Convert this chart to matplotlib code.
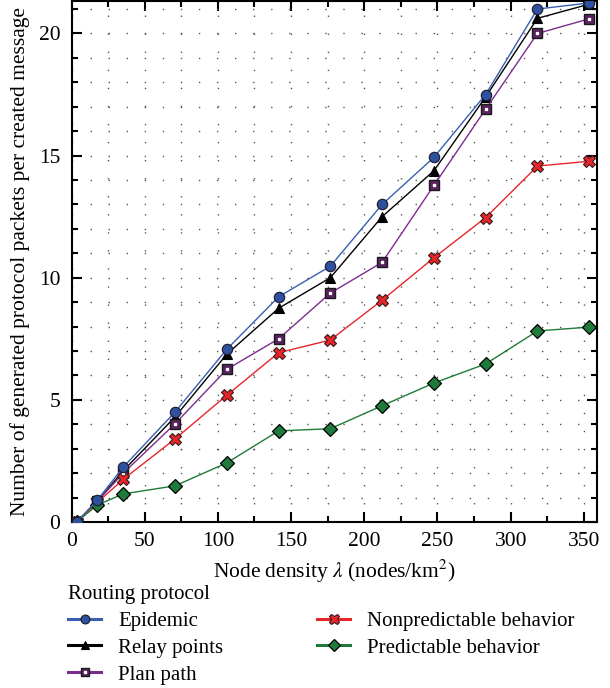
import matplotlib
matplotlib.use("Agg")
import matplotlib.pyplot as plt
from matplotlib.ticker import MultipleLocator
from matplotlib.legend_handler import HandlerTuple
from matplotlib.lines import Line2D

plt.rcParams['font.family'] = ['Liberation Serif', 'DejaVu Serif']
plt.rcParams['mathtext.fontset'] = 'stix'

# Data
density = [3.5, 17.7, 35.4, 70.7, 106.1, 141.5, 176.8, 212.2, 247.6, 282.9, 318.3, 353.7]
epidemic = [0.0, 0.9, 2.25, 4.5, 7.07, 9.22, 10.47, 13.0, 14.93, 17.5, 21.0, 21.25]
relay = [0.0, 0.85, 2.1, 4.3, 6.87, 8.75, 10.0, 12.5, 14.38, 17.4, 20.62, 21.2]
plan = [0.0, 0.85, 2.0, 4.02, 6.25, 7.5, 9.37, 10.63, 13.78, 16.9, 20.0, 20.6]
nonpred = [0.0, 0.8, 1.75, 3.4, 5.19, 6.93, 7.45, 9.08, 10.82, 12.46, 14.57, 14.77]
pred = [0.0, 0.7, 1.15, 1.48, 2.42, 3.73, 3.82, 4.76, 5.69, 6.47, 7.82, 7.98]

labels = ["Epidemic", "Relay points", "Plan path", "Nonpredictable behavior", "Predictable behavior"]

FS = 15.5

fig = plt.figure(figsize=(6.10, 6.88), dpi=100)
ax = fig.add_axes([71.5/610, 1-522/688, (597-71.5)/610, 521.5/688])

lw = 1.0
styles = [
    dict(color='#3a5fb0', marker='o', ms=7.5, mfc='#2f4f9f', mec='#1a1a2a', mew=0.8),
    dict(color='black', marker='^', ms=7, mfc='black', mec='black', mew=0.8),
    dict(color='#7b2d8e', marker='s', ms=7, mfc='#5a2260', mec='#1a1a1a', mew=1.0),
    dict(color='#e8262a', marker='X', ms=8.5, mfc='#e8262a', mec='#3a1a1a', mew=0.8),
    dict(color='#1f7a3a', marker='D', ms=7.5, mfc='#1e7b3c', mec='black', mew=0.9),
]
series = [epidemic, relay, plan, nonpred, pred]
zs = [5, 4, 4, 4, 4]
for ys, st, z in zip(series, styles, zs):
    ax.plot(density, ys, lw=lw, zorder=z, **st)
ax.plot(density, plan, ls='none', marker='s', ms=1.8, mfc='white', mec='white', zorder=4.5)

ax.set_xlim(0, 359)
ax.set_ylim(0, 21.35)
ax.xaxis.set_major_locator(MultipleLocator(50))
ax.xaxis.set_minor_locator(MultipleLocator(25))
ax.yaxis.set_major_locator(MultipleLocator(5))
ax.yaxis.set_minor_locator(MultipleLocator(1))

ax.grid(which='both', color='#555555', linestyle=(0, (1, 12)), linewidth=1.0)
ax.set_axisbelow(True)

ax.tick_params(which='both', direction='in', top=True, right=True, width=1.5,
               labelsize=FS)
ax.tick_params(which='major', length=7)
ax.tick_params(which='minor', length=4.5)
ax.tick_params(axis='x', pad=7)
ax.tick_params(axis='y', pad=8)
for s in ax.spines.values():
    s.set_linewidth(1.5)

ax.set_xlabel(r'Node density $\lambda$ (nodes/km$^2$)', fontsize=FS, labelpad=5)
ax.set_ylabel('Number of generated protocol packets per created message', fontsize=FS, labelpad=6)

# legend handles (thicker lines, smaller markers as in reference)
handles = []
for i, st in enumerate(styles):
    st2 = dict(st)
    st2['ms'] = st['ms'] * 0.85
    h = Line2D([], [], lw=2.2, **st2)
    if i == 2:
        hb = Line2D([], [], ls='none', marker='s', ms=1.6, mfc='white', mec='white')
        h = (h, hb)
    handles.append(h)

leg = fig.legend(handles, labels, loc='upper left', bbox_to_anchor=(68/610, 1-585/688),
                 ncol=2, frameon=False, fontsize=15, title='Routing protocol',
                 title_fontsize=15, alignment='left', borderpad=0, borderaxespad=0,
                 handlelength=1.6, handletextpad=0.8, columnspacing=4.5,
                 labelspacing=0.35, handler_map={tuple: HandlerTuple(ndivide=1)})

fig.savefig('out.png', dpi=100)
